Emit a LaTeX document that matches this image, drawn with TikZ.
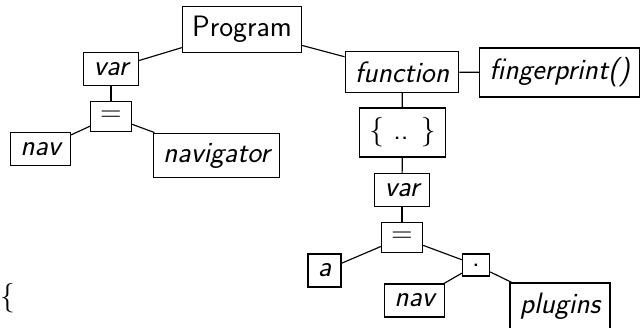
\documentclass[tikz,border=0pt]{standalone}
\usepackage{fontspec}
\begin{document}
\begin{tikzpicture}[x=1pt, y=-1pt,
  tn/.style={draw, line width=1.15pt, inner sep=9.8pt,
             font=\fontsize{29.5}{35}\selectfont\sffamily},
  kw/.style={tn, font=\fontsize{29.5}{35}\selectfont\sffamily\itshape},
  link/.style={line width=1.15pt}]
\useasboundingbox (0,0) rectangle (642,328);

% syntax tree nodes
\node[tn] (prog)  at (242,29.5)  {Program};
\node[kw] (var1)  at (111,69)    {var};
\node[tn] (eq1)   at (111,116.5) {=};
\node[kw] (nav1)  at (40.5,149)  {nav};
\node[kw] (navg)  at (216.5,155.5) {navigator};
\node[kw] (func)  at (402,72)    {function};
\node[kw] (fp)    at (559.5,72.5) {fingerprint()};
\node[tn] (body)  at (402.5,132.5) {\{ .. \}};
\node[kw] (var2)  at (402,190)   {var};
\node[tn] (eq2)   at (402,237.5) {=};
\node[kw] (a)     at (324.5,270.5) {a};
\node[tn] (dot)   at (476,265)   {.};
\node[kw] (nav2)  at (414.5,300.5) {nav};
\node[kw] (plug)  at (560,306)   {plugins};
\node[inner sep=0pt, anchor=west, font=\fontsize{29.5}{35}\selectfont\sffamily] (brace) at (0,298) {\{};

% edges
\draw[link] (prog) -- (var1);
\draw[link] (var1) -- (eq1);
\draw[link] (eq1) -- (nav1);
\draw[link] (eq1) -- (navg);
\draw[link] (prog) -- (func);
\draw[link] (func) -- (fp);
\draw[link] (func) -- (body);
\draw[link] (body) -- (var2);
\draw[link] (var2) -- (eq2);
\draw[link] (eq2) -- (a);
\draw[link] (eq2) -- (dot);
\draw[link] (dot) -- (nav2);
\draw[link] (dot) -- (plug);
\end{tikzpicture}
\end{document}
